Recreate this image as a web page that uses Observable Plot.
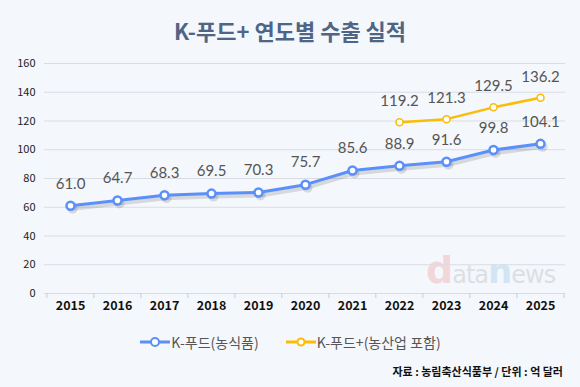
<!DOCTYPE html>
<html><head><meta charset="utf-8">
<script src="https://cdn.jsdelivr.net/npm/d3@7"></script>
<script src="https://cdn.jsdelivr.net/npm/@observablehq/plot@0.6"></script>
<style>
html,body{margin:0;padding:0;background:#f4f7fb;width:580px;height:387px;overflow:hidden;font-family:"Noto Sans CJK KR","Noto Sans",sans-serif;}
#title{position:absolute;left:0;top:12px;width:580px;text-align:center;font-weight:bold;font-size:22px;color:#4f6585;line-height:36px;}
#chart{position:absolute;left:0;top:50px;}
#legend{position:absolute;left:0;top:332px;width:580px;display:flex;justify-content:center;gap:26px;font-size:14px;color:#555;}
#legend .item{display:flex;align-items:center;}
#caption{position:absolute;right:17px;top:363px;font-size:11px;font-weight:bold;color:#111;}
#wm{position:absolute;left:426px;top:250px;font-family:"DejaVu Sans",sans-serif;font-size:24px;letter-spacing:-1px;opacity:0.16;line-height:40px;white-space:nowrap;}
</style></head>
<body>
<div id="title">K-푸드+ 연도별 수출 실적</div>
<div id="wm"><span style="color:#e53935;font-size:38px;font-weight:bold">d</span><span style="color:#666">ata</span><span style="color:#2a8fd6;font-size:34px;font-weight:bold">n</span><span style="color:#666">ews</span></div>
<div id="chart"></div>
<div id="legend"></div>
<div id="caption">자료 : 농림축산식품부 / 단위 : 억 달러</div>
<script>
const years = ["2015","2016","2017","2018","2019","2020","2021","2022","2023","2024","2025"];
const kfood = [61.0,64.7,68.3,69.5,70.3,75.7,85.6,88.9,91.6,99.8,104.1];
const plusYears = ["2022","2023","2024","2025"];
const kfoodPlus = [119.2,121.3,129.5,136.2];
const yTicks = [0,20,40,60,80,100,120,140,160];
const seriesNames = ["K-푸드(농식품)","K-푸드+(농산업 포함)"];
const colors = ["#5b8ff9","#fbbc05"];

const blue = years.map((y,i)=>({year:y, value:kfood[i]}));
const yellow = plusYears.map((y,i)=>({year:y, value:kfoodPlus[i]}));
const W = 580, ML = 44, MR = 15;
const half = (W-ML-MR)/years.length/2;

const plot = Plot.plot({
  width: W, height: 265,
  marginLeft: ML, marginRight: MR, marginTop: 13, marginBottom: 22,
  style:{background:"transparent", fontFamily:"'Noto Sans CJK KR','Noto Sans',sans-serif"},
  x:{type:"point", domain: years, padding:0.5, label:null},
  y:{domain:[0,160], ticks:yTicks, label:null},
  marks:[
    Plot.gridY(yTicks,{stroke:"#d9dde3", strokeOpacity:1, strokeWidth:1}),
    Plot.ruleX(years,{x:d=>d, y1:0, y2:-3.5, dx:-half, stroke:"#ccc"}),
    Plot.ruleX(years.slice(-1),{x:d=>d, y1:0, y2:-3.5, dx:half, stroke:"#ccc"}),
    Plot.axisY(yTicks,{tickSize:0, tickPadding:9, fontSize:11, fill:"#222"}),
    Plot.axisX({tickSize:0, tickPadding:8, fontSize:12.5, fontWeight:"bold", fill:"#111"}),
    Plot.line(yellow,{x:"year", y:"value", stroke:colors[1], strokeWidth:2.5}),
    Plot.dot(yellow,{x:"year", y:"value", r:3.5, fill:"white", stroke:colors[1], strokeWidth:1.5}),
    Plot.line(blue,{x:"year", y:"value", stroke:"#000", strokeOpacity:0.12, strokeWidth:4, dx:2, dy:3}),
    Plot.dot(blue,{x:"year", y:"value", r:5, fill:"#000", fillOpacity:0.12, dx:2, dy:3}),
    Plot.line(blue,{x:"year", y:"value", stroke:colors[0], strokeWidth:3}),
    Plot.dot(blue,{x:"year", y:"value", r:4, fill:"white", stroke:colors[0], strokeWidth:2.5}),
    Plot.text(blue,{x:"year", y:"value", text:d=>d.value.toFixed(1), dy:-22, fontSize:15, fill:"#555", fontFamily:"Lato, 'Noto Sans', sans-serif"}),
    Plot.text(yellow,{x:"year", y:"value", text:d=>d.value.toFixed(1), dy:-21, fontSize:15, fill:"#555", fontFamily:"Lato, 'Noto Sans', sans-serif"})
  ]
});
document.getElementById("chart").appendChild(plot);

const leg = d3.select("#legend");
seriesNames.forEach((n,i)=>{
  const it = leg.append("div").attr("class","item");
  const s = it.append("svg").attr("width",32).attr("height",12);
  s.append("line").attr("x1",1).attr("x2",31).attr("y1",6).attr("y2",6).attr("stroke",colors[i]).attr("stroke-width",3);
  s.append("circle").attr("cx",16).attr("cy",6).attr("r",i===0?4:3.5).attr("fill","white").attr("stroke",colors[i]).attr("stroke-width",2);
  it.append("span").text(n);
});
</script>
</body></html>
